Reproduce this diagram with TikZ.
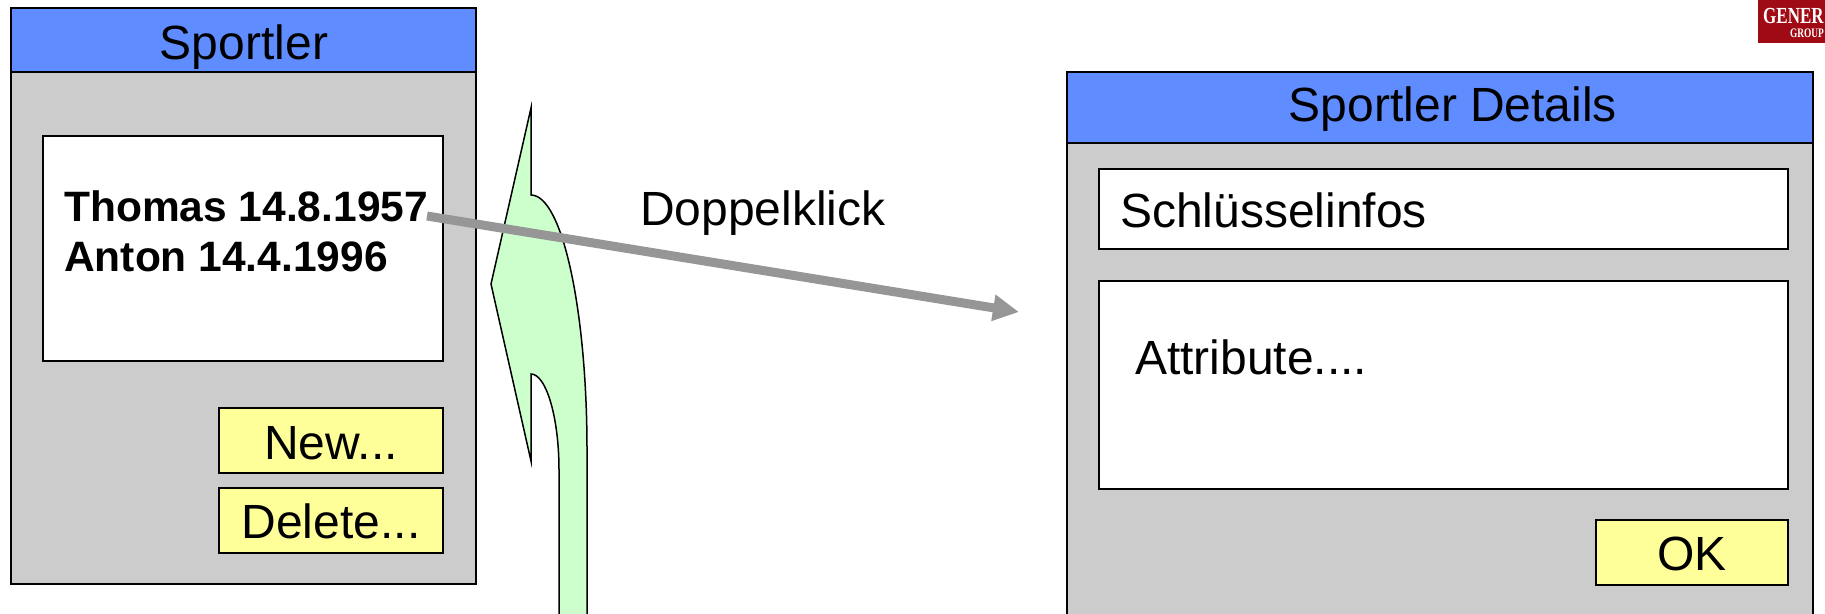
\documentclass[tikz,border=0pt]{standalone}
\usepackage{fontspec}
\setmainfont{Liberation Sans}
\newfontfamily\logofont{Liberation Serif}
\usepackage{xcolor}
\usepackage{tikz}
\usetikzlibrary{arrows.meta}
\definecolor{titleblue}{RGB}{95,140,255}
\definecolor{panelgray}{RGB}{204,204,204}
\definecolor{buttonyellow}{RGB}{255,255,153}
\definecolor{branchgreen}{RGB}{204,255,204}
\definecolor{logored}{RGB}{160,10,20}
\definecolor{linkgray}{RGB}{150,150,150}
\tikzset{
	box/.style={draw=black,line width=1.5pt,anchor=north west,inner sep=0pt,outer sep=0pt},
	panel/.style={box,fill=panelgray},
	titlebar/.style={box,fill=titleblue},
	field/.style={box,fill=white},
	button/.style={box,fill=buttonyellow},
	label/.style={font=\fontsize{48}{56}\selectfont,inner sep=0pt}
}
\begin{document}
\begin{tikzpicture}[x=1pt,y=-1pt]
	\useasboundingbox (0,0) rectangle (1825,613);
	
	% logo
	\begin{scope}
		\clip (0,0) rectangle (1825,613);
		\fill[logored] (1758,-10) rectangle (1840,43);
		\node[white,font=\logofont\bfseries\fontsize{23}{23}\selectfont,anchor=west,inner sep=0pt,xscale=.74] (logotext) at (1763,16) {GENER};
		\node[white,font=\logofont\bfseries\fontsize{13}{13}\selectfont,anchor=west,inner sep=0pt,xscale=.72] (logogroup) at (1790,33) {GROUP};
	\end{scope}
	
	% left window
	\node[panel,minimum width=465pt,minimum height=576pt] (sportler) at (11,8) {};
	\node[titlebar,minimum width=465pt,minimum height=64pt] (sportlertitle) at (11,8) {};
	\node[label] (sportlerlabel) at (244,47) {Sportler};
	\node[field,minimum width=400pt,minimum height=225pt] (list) at (43,136) {};
	\node[font=\fontsize{42.5}{50}\selectfont\bfseries,inner sep=0pt,align=left,anchor=north west] (names) at (64,191) {Thomas 14.8.1957\\Anton 14.4.1996};
	\node[button,minimum width=224pt,minimum height=65pt] (new) at (219,408) {};
	\node[label] (newlabel) at (331,443) {New...};
	\node[button,minimum width=224pt,minimum height=65pt] (delete) at (219,488) {};
	\node[label] (deletelabel) at (331,521) {Delete...};
	
	% green branch
	\draw[fill=branchgreen,line width=1.5pt] (531,108) -- (531,195) .. controls (562,195) and (587,309) .. (587,450) -- (587,625) -- (559,625) -- (559,470) .. controls (559,417) and (546,374) .. (531,374) -- (531,461) -- (491,284) -- cycle;
	
	% right window
	\begin{scope}
		\clip (0,0) rectangle (1825,613);
		\node[panel,minimum width=746pt,minimum height=600pt] (details) at (1067,72) {};
	\end{scope}
	\node[titlebar,minimum width=746pt,minimum height=71pt] (detailstitle) at (1067,72) {};
	\node[label] (detailslabel) at (1453,109) {Sportler Details};
	\node[field,minimum width=689pt,minimum height=80pt] (keys) at (1099,169) {};
	\node[label,anchor=west] (keystext) at (1120,210) {Schlüsselinfos};
	\node[field,minimum width=689pt,minimum height=208pt] (attrs) at (1099,281) {};
	\node[label,anchor=west] (attrstext) at (1135,357) {Attribute....};
	\node[button,minimum width=192pt,minimum height=65pt] (ok) at (1596,520) {};
	\node[label] (oklabel) at (1692,554) {OK};
	
	% link
	\node[label,anchor=west] (dbl) at (640,213) {Doppelklick};
	\coordinate (from) at (427,216);
	\coordinate (to) at (1019,312);
	\draw[linkgray,line width=9pt,-{Triangle[length=26pt,width=25pt]}] (from) -- (to);
\end{tikzpicture}
\end{document}
